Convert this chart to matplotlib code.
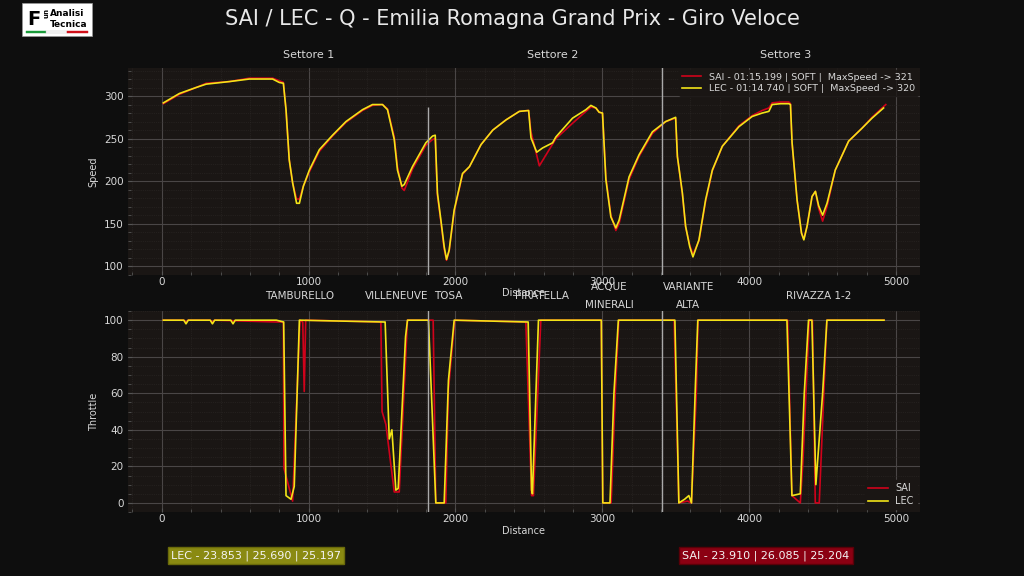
import numpy as np
import matplotlib.pyplot as plt
import matplotlib.transforms as mtransforms
from matplotlib.patches import Rectangle

title = 'SAI / LEC - Q - Emilia Romagna Grand Prix - Giro Veloce'

# speed traces (distance m, km/h)
lec_dist = [11, 120, 233, 302, 460, 596, 755, 800, 828, 846, 868, 891, 918, 937, 964, 1005,
            1073, 1163, 1254, 1367, 1435, 1503, 1537, 1583, 1605, 1635, 1651, 1707, 1798, 1844,
            1862, 1877, 1900, 1923, 1939, 1957, 1991, 2048, 2095, 2174, 2254, 2344, 2435, 2498,
            2514, 2553, 2593, 2661, 2684, 2797, 2888, 2922, 2956, 2978, 3001, 3024, 3058, 3092,
            3114, 3182, 3250, 3341, 3431, 3499, 3511, 3545, 3567, 3595, 3617, 3658, 3703, 3749,
            3817, 3930, 4020, 4088, 4134, 4156, 4213, 4270, 4281, 4292, 4326, 4356, 4372, 4394,
            4428, 4451, 4473, 4500, 4530, 4586, 4677, 4767, 4836, 4915]
lec_speed = [292, 303, 310, 314, 317, 320, 320, 316, 315, 284, 225, 198, 174, 174, 194, 213,
             237, 254, 270, 284, 290, 290, 284, 249, 213, 194, 196, 217, 245, 253,
             254, 186, 155, 123, 108, 119, 166, 209, 217, 243, 260, 272, 282, 283,
             251, 234, 239, 245, 252, 274, 284, 289, 286, 281, 280, 202, 158, 145,
             154, 205, 231, 258, 270, 275, 229, 186, 147, 123, 111, 131, 178, 213,
             241, 264, 276, 280, 282, 290, 291, 291, 290, 245, 178, 139, 131, 147,
             182, 188, 171, 160, 174, 213, 247, 262, 274, 286]

sai_dist = [11, 120, 233, 302, 460, 596, 755, 800, 828, 846, 868, 891, 918, 937, 964, 1005,
            1073, 1163, 1254, 1367, 1435, 1503, 1537, 1583, 1605, 1635, 1651, 1707, 1798, 1844,
            1862, 1877, 1900, 1923, 1939, 1957, 1991, 2048, 2095, 2174, 2254, 2344, 2435, 2498,
            2514, 2571, 2684, 2797, 2888, 2922, 2956, 2978, 3001, 3024, 3058, 3092,
            3114, 3182, 3250, 3341, 3431, 3499, 3511, 3545, 3567, 3595, 3617, 3658, 3703, 3749,
            3817, 3930, 4020, 4088, 4134, 4156, 4213, 4270, 4281, 4292, 4326, 4356, 4372, 4394,
            4428, 4451, 4473, 4500, 4530, 4586, 4677, 4767, 4836, 4930]
sai_speed = [291, 302, 310, 315, 317, 321, 321, 318, 316, 284, 225, 198, 179, 179, 194, 211,
             235, 253, 269, 283, 289, 290, 285, 252, 217, 192, 189, 214, 242, 249,
             250, 183, 153, 120, 107, 118, 164, 208, 217, 243, 260, 272, 282, 283,
             258, 218, 250, 268, 282, 287, 286, 281, 280, 205, 160, 142,
             150, 202, 229, 256, 270, 274, 229, 185, 146, 125, 114, 130, 176, 212,
             241, 265, 277, 283, 286, 292, 293, 293, 291, 245, 178, 139, 132, 147,
             182, 188, 168, 153, 170, 213, 247, 262, 275, 290]

# throttle traces (distance m, %)
lec_thr_dist = [11, 150, 165, 180, 330, 345, 360, 470, 485, 500, 780, 830, 846, 880, 902, 937,
                1515, 1521, 1549, 1567, 1594, 1610, 1660, 1673, 1816, 1866, 1923, 1952, 1991,
                2495, 2518, 2524, 2565, 2993, 3003, 3052, 3079, 3109, 3494, 3521, 3560, 3589,
                3607, 3634, 3650, 4257, 4291, 4348, 4375, 4404, 4427, 4454, 4500, 4529, 4918]
lec_thr = [100, 100, 98, 100, 100, 98, 100, 100, 98, 100, 100, 99, 4, 2, 9, 100,
           99, 99, 35, 40, 7, 8, 91, 100, 100, 0, 0, 67, 100,
           99, 7, 5, 100, 100, 0, 0, 60, 100, 100, 0, 2, 4,
           0, 65, 100, 100, 4, 5, 60, 100, 100, 10, 60, 100, 100]

sai_thr_dist = [11, 150, 165, 180, 330, 345, 360, 780, 828, 832, 891, 941, 960, 970, 980,
                1492, 1500, 1526, 1583, 1617, 1673, 1848, 1866, 1934, 1952, 1995,
                2479, 2518, 2531, 2581, 2993, 3003, 3060, 3088, 3112, 3489, 3521, 3580,
                3607, 3640, 3652, 4262, 4291, 4348, 4366, 4409, 4431, 4450, 4477, 4529, 4918]
sai_thr = [100, 100, 99, 100, 100, 99, 100, 99, 99, 19, 1, 100, 99, 61, 100,
           99, 50, 43, 6, 6, 100, 100, 0, 0, 62, 100,
           99, 4, 4, 100, 100, 0, 0, 60, 100, 100, 0, 1,
           0, 60, 100, 100, 4, 0, 23, 100, 100, 0, 0, 100, 100]

sector_x = [1810, 3408]
sector_names = ['Settore 1', 'Settore 2', 'Settore 3']
sector_label_x = [1000, 2660, 4250]
corners = ['TAMBURELLO', 'VILLENEUVE', 'TOSA', 'PIRATELLA', 'ACQUE\n\nMINERALI',
           'VARIANTE\n\nALTA', 'RIVAZZA 1-2']
corner_x = [939, 1599, 1952, 2592, 3047, 3585, 4476]

lec_legend = 'LEC - 01:14.740 | SOFT |  MaxSpeed -> 320'
sai_legend = 'SAI - 01:15.199 | SOFT |  MaxSpeed -> 321'
lec_sectors = 'LEC - 23.853 | 25.690 | 25.197'
sai_sectors = 'SAI - 23.910 | 26.085 | 25.204'

RED = '#d0021b'
YEL = '#f2e418'
BG = '#0e0e0e'
AX = '#1a1614'
TXT = '#d8d8d8'

fig = plt.figure(figsize=(10.24, 5.76), dpi=100, facecolor=BG)
ax1 = fig.add_axes([0.125, 0.523, 0.773, 0.359])
ax2 = fig.add_axes([0.125, 0.111, 0.773, 0.349])

for ax in (ax1, ax2):
    ax.set_facecolor(AX)
    for s in ax.spines.values():
        s.set_visible(False)
    ax.minorticks_on()
    ax.grid(which='major', color='#4a4646', lw=0.8)
    ax.grid(which='minor', color='#2e2a28', lw=0.5, ls=':')
    ax.tick_params(which='both', colors='#555', labelcolor=TXT, labelsize=7.5, direction='in')
    ax.tick_params(axis='x', which='both', pad=1.5)
    ax.tick_params(axis='y', which='both', pad=3)
    ax.tick_params(which='major', length=3)
    ax.tick_params(which='minor', length=2)
    ax.set_xlim(-230, 5160)
    ax.set_xticks([0, 1000, 2000, 3000, 4000, 5000])
    ax.set_xlabel('Distance', color=TXT, fontsize=7, labelpad=1)

ax1.plot(sai_dist, sai_speed, color=RED, lw=1.2, label=sai_legend)
ax1.plot(lec_dist, lec_speed, color=YEL, lw=1.2, label=lec_legend)
ax1.set_ylim(90, 333)
ax1.set_yticks([100, 150, 200, 250, 300])
ax1.set_ylabel('Speed', color=TXT, fontsize=7)
ax1.vlines(sector_x[0], 85, 287, color='#aaaaaa', lw=1)
ax1.vlines(sector_x[1], 85, 340, color='#aaaaaa', lw=1)
ax1.legend(loc='upper right', fontsize=6.8, facecolor=AX, edgecolor=AX,
           labelcolor=TXT, framealpha=0.8, handlelength=2, borderaxespad=0.2,
           labelspacing=0.25, borderpad=0.3)

ax2.plot(sai_thr_dist, sai_thr, color=RED, lw=1.2, label='SAI')
ax2.plot(lec_thr_dist, lec_thr, color=YEL, lw=1.2, label='LEC')
ax2.set_ylim(-5, 105)
ax2.set_yticks([0, 20, 40, 60, 80, 100])
ax2.set_ylabel('Throttle', color=TXT, fontsize=7)
for x in sector_x:
    ax2.axvline(x, color='#aaaaaa', lw=1)
ax2.legend(loc='lower right', fontsize=7, facecolor=AX, edgecolor=AX,
           labelcolor=TXT, framealpha=1, handlelength=2, borderaxespad=0.3,
           labelspacing=0.3, borderpad=0.3)

tr1 = mtransforms.blended_transform_factory(ax1.transData, ax1.transAxes)
for name, x in zip(sector_names, sector_label_x):
    ax1.text(x, 1.063, name, transform=tr1, ha='center', va='center', color=TXT, fontsize=8)

tr2 = mtransforms.blended_transform_factory(ax2.transData, ax2.transAxes)
for name, x in zip(corners, corner_x):
    ax2.text(x, 1.075, name, transform=tr2, ha='center', va='center', color=TXT,
             fontsize=7.5, linespacing=0.9)

fig.text(0.5, 0.967, title, ha='center', va='center', color='#e8e8e8', fontsize=15)

fig.text(0.25, 0.036, lec_sectors, ha='center', va='center', color='#f4f4f4', fontsize=8,
         bbox=dict(boxstyle='square,pad=0.3', facecolor='#8a8a12', edgecolor='#6a6a0a'))
fig.text(0.748, 0.036, sai_sectors, ha='center', va='center', color='#f4f4f4', fontsize=8,
         bbox=dict(boxstyle='square,pad=0.3', facecolor='#8b0012', edgecolor='#5a0008'))

# logo
fig.patches.append(Rectangle((0.0215, 0.937), 0.068, 0.058, transform=fig.transFigure,
                             facecolor='white', edgecolor='#999', lw=0.5))
fig.text(0.027, 0.966, 'F', color='black', fontsize=14, fontweight='bold', va='center')
fig.text(0.041, 0.975, 'un', color='black', fontsize=5, fontweight='bold', va='center', rotation=-90)
fig.text(0.049, 0.976, 'Analisi', color='black', fontsize=6.5, fontweight='bold', va='center')
fig.text(0.049, 0.957, 'Tecnica', color='black', fontsize=6.5, fontweight='bold', va='center')
for i, c in enumerate(['#1a9a3a', '#ffffff', '#d0101a']):
    fig.patches.append(Rectangle((0.025 + i * 0.0203, 0.942), 0.0203, 0.004,
                                 transform=fig.transFigure, facecolor=c, edgecolor='#bbb' if c == '#ffffff' else c, lw=0.3))

fig.savefig('out.png', dpi=100, facecolor=BG)
